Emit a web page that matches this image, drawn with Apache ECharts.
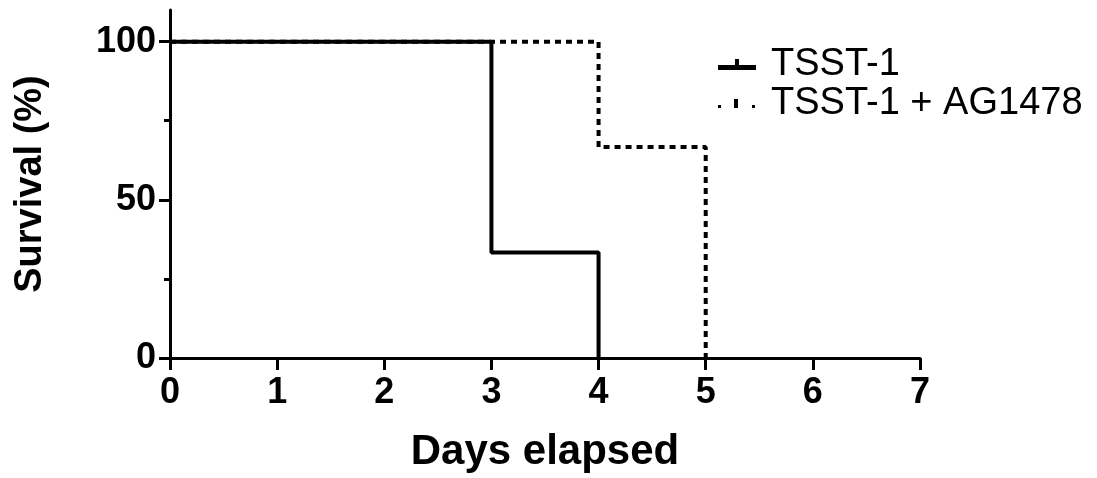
<!DOCTYPE html>
<html>
<head>
<meta charset="utf-8">
<script src="https://cdn.jsdelivr.net/npm/echarts@6/dist/echarts.min.js"></script>
<style>
  html, body { margin: 0; padding: 0; background: #fff; }
  #chart { width: 1097px; height: 478px; }
</style>
</head>
<body>
<div id="chart"></div>
<script>
// survival steps: [day, survival %]
var seriesNames = ['TSST-1', 'TSST-1 + AG1478']
var tsstData = [[0, 100], [3, 33.33], [4, 0]]
var agData = [[0, 100], [4, 66.67], [5, 0]]
var yTicks = [0, 50, 100]
var yMinorTicks = [25, 75]

var font = 'Liberation Sans, Arial, sans-serif'
// legend glyphs: line with a censor tick
var solidIcon = 'path://M0,6L38,6L38,11L0,11Z M17,0L21,0L21,6L17,6Z'
var dottedIcon = 'path://M0,7L3,7L3,10L0,10Z M16,1L20,1L20,10L16,10Z M34,7L37,7L37,10L34,10Z M0,0L0.01,0L0.01,0.01Z M38,11L38.01,11L38.01,11.01Z'

var chart = echarts.init(document.getElementById('chart'))

chart.setOption({
  animation: false,
  grid: { left: 170, right: 177, top: 10, bottom: 118 },
  legend: {
    orient: 'vertical',
    left: 713,
    top: 40,
    itemGap: 0,
    itemWidth: 38,
    itemHeight: 11,
    textStyle: {
      fontFamily: font,
      fontSize: 38,
      color: '#000',
      lineHeight: 39,
      padding: [0, 0, 0, 10]
    },
    data: [
      { name: seriesNames[0], icon: solidIcon, itemStyle: { color: '#000' } },
      { name: seriesNames[1], icon: dottedIcon, itemStyle: { color: '#000' } }
    ]
  },
  xAxis: {
    type: 'value',
    min: 0,
    max: 7,
    interval: 1,
    name: 'Days elapsed',
    nameLocation: 'middle',
    nameGap: 73,
    nameTextStyle: { fontFamily: font, fontSize: 42, fontWeight: 'bold', color: '#000' },
    axisLine: { onZero: false, lineStyle: { color: '#000', width: 3 } },
    axisTick: { length: 12, lineStyle: { color: '#000', width: 3 } },
    axisLabel: { margin: 17, fontFamily: font, fontSize: 36, fontWeight: 'bold', color: '#000' },
    splitLine: { show: false }
  },
  yAxis: [
    {
      type: 'value',
      min: 0,
      max: 110,
      interval: 50,
      name: 'Survival (%)',
      nameLocation: 'middle',
      nameGap: 120,
      nameTextStyle: { fontFamily: font, fontSize: 38, fontWeight: 'bold', color: '#000' },
      axisLine: { show: true, onZero: false, lineStyle: { color: '#000', width: 3 } },
      axisTick: { show: true, length: 11, customValues: yTicks, lineStyle: { color: '#000', width: 3 } },
      axisLabel: { margin: 14, customValues: yTicks, fontFamily: font, fontSize: 36, fontWeight: 'bold', color: '#000' },
      splitLine: { show: false }
    },
    {
      // minor ticks only
      type: 'value',
      position: 'left',
      min: 0,
      max: 110,
      axisLine: { show: false },
      axisTick: { show: true, length: 6, customValues: yMinorTicks, lineStyle: { color: '#000', width: 3 } },
      axisLabel: { show: false },
      splitLine: { show: false }
    }
  ],
  series: [
    {
      name: seriesNames[0],
      type: 'line',
      step: 'end',
      data: tsstData,
      showSymbol: false,
      lineStyle: { color: '#000', width: 4 },
      itemStyle: { color: '#000' },
      z: 3
    },
    {
      name: seriesNames[1],
      type: 'line',
      step: 'end',
      data: agData,
      showSymbol: false,
      lineStyle: { color: '#000', width: 4, type: [6, 5] },
      itemStyle: { color: '#000' },
      z: 2
    }
  ]
})
</script>
</body>
</html>
